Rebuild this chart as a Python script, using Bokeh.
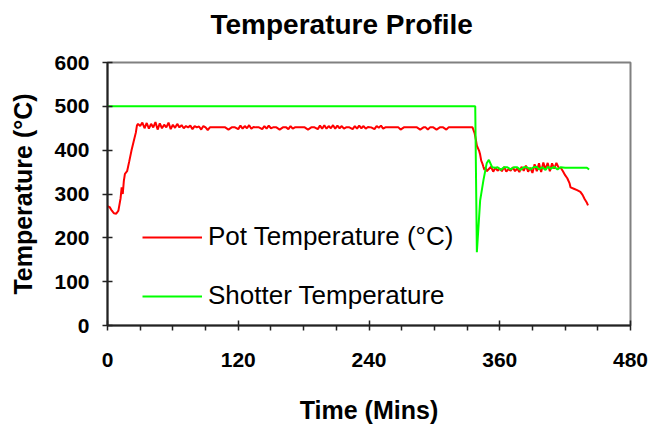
from bokeh.plotting import figure
from bokeh.models import Legend, LegendItem, FixedTicker, Range1d, Title
from bokeh.embed import file_html
from bokeh.resources import INLINE

# ---- data ----
pot_time = [0, 2, 4, 6, 8, 10, 12, 13, 14, 15, 16, 18, 20, 22, 24, 26, 27, 28,
            30, 32, 34, 36, 38, 40, 42, 44, 46, 48, 50, 52, 54, 56, 58, 60, 62, 64, 66, 68,
            70, 72, 74, 76, 78, 80, 82, 84, 86, 88, 90, 92, 94,
            96, 99, 102, 105, 108, 111, 114, 117, 120, 122, 124, 126, 128, 130, 132, 134, 136,
            139, 142, 144, 146, 148, 150, 152, 155, 158, 161, 164, 166, 168, 170, 172, 175,
            178, 181, 184, 187, 190, 193, 195, 197, 199, 201, 203, 205, 207, 209, 211, 213,
            215, 217, 219, 222, 225, 227, 229, 231, 233, 235, 237, 239, 242, 245, 247, 249,
            251, 253, 255, 258, 261, 264, 267, 269, 272, 275, 278, 281, 284, 287, 290, 292,
            294, 296, 299, 302, 305, 308, 311, 313, 316, 320, 324, 328, 332, 335,
            337, 338, 339, 341, 342, 343, 344, 345, 346, 347, 348, 350,
            352, 354, 356, 358, 360, 362, 364, 366, 368, 370, 372, 374, 376, 378, 380, 382,
            384, 386, 388, 390, 392, 394, 396, 398, 400, 402, 404, 406, 408, 410, 412, 414,
            416, 418, 420, 422, 424, 425, 428, 431, 434, 436, 438, 440, 441]
pot_temp = [272, 270, 262, 256, 255, 262, 290, 315, 300, 330, 346, 352, 375, 399, 420, 440, 456, 460,
            455, 463, 450, 462, 449, 460, 452, 464, 447, 461, 450, 458, 452, 463, 448, 458, 451, 460, 452, 457,
            450, 455, 452, 456, 448, 455, 452, 454, 447, 455, 452, 446, 452,
            452, 452, 452, 452, 452, 447, 452, 452, 448, 456, 449, 455, 450, 457, 449, 453, 452,
            452, 448, 455, 449, 456, 450, 452, 452, 447, 452, 452, 448, 455, 449, 452, 452,
            452, 452, 447, 452, 452, 448, 456, 449, 457, 449, 455, 450, 457, 449, 456, 450,
            455, 449, 452, 452, 448, 455, 449, 456, 450, 455, 449, 453, 452, 448, 455, 451,
            456, 449, 452, 452, 452, 452, 452, 447, 452, 452, 452, 452, 452, 447, 452, 452,
            447, 452, 452, 447, 452, 452, 447, 452, 452, 452, 452, 452, 452, 452,
            438, 425, 410, 399, 390, 376, 370, 362, 355, 360, 352, 357,
            362, 351, 360, 353, 358, 352, 362, 351, 357, 353, 361, 352, 358, 350, 362, 353,
            365, 351, 360, 348, 368, 352, 370, 350, 372, 356, 371, 352, 370, 358, 371, 360,
            360, 352, 343, 336, 325, 315, 312, 309, 305, 298, 288, 280, 274]

shot_time = [0, 337.5, 339, 342, 345, 348, 350, 353, 356, 358, 361, 364, 367, 370, 373, 376,
             379, 382, 385, 388, 391, 394, 396, 399, 402, 404, 407, 410, 413, 416, 420,
             425, 430, 435, 440, 442]
shot_temp = [500, 500, 167, 285, 331, 370, 378, 361, 360, 361, 355, 361, 361, 356, 361, 361,
             355, 361, 361, 356, 361, 362, 356, 361, 355, 362, 358, 362, 356, 361, 360,
             360, 360, 360, 360, 356]

x_ticks = [0, 120, 240, 360, 480]
x_minor = [30, 60, 90, 150, 180, 210, 270, 300, 330, 390, 420, 450]
y_ticks = [0, 100, 200, 300, 400, 500, 600]
title_text = "Temperature Profile"

FONT = "Liberation Sans"

p = figure(width=651, height=430, output_backend="svg", toolbar_location=None,
           x_range=Range1d(0, 480), y_range=Range1d(0, 600), title=None,
           min_border_left=107, min_border_right=21, min_border_top=62, min_border_bottom=105)
# spacer panel between the title and the plot frame, then the title itself
p.add_layout(Title(text=" ", text_font=FONT, text_font_size="12px", standoff=2), "above")
p.add_layout(Title(text=title_text, align="left", text_font=FONT,
                   text_font_size="28px", text_font_style="bold", text_color="black",
                   standoff=10, offset=103), "above")
p.background_fill_color = "white"
p.border_fill_color = "white"
p.outline_line_color = "#808080"
p.outline_line_width = 2
p.xgrid.visible = False
p.ygrid.visible = False

r_pot = p.line(pot_time, pot_temp, line_color="#FF0000", line_width=2)
r_shot = p.line(shot_time, shot_temp, line_color="#00FF00", line_width=2)

for ax in (p.xaxis[0], p.yaxis[0]):
    ax.axis_line_color = "#222222"
    ax.axis_line_width = 2
    ax.major_tick_line_color = "#222222"
    ax.major_tick_line_width = 1.5
    ax.major_tick_in = 5
    ax.major_tick_out = 5
    ax.major_label_text_font = FONT
    ax.major_label_text_font_size = "21px"
    ax.major_label_text_font_style = "bold"
    ax.major_label_text_color = "black"
    ax.axis_label_text_font = FONT
    ax.axis_label_text_font_size = "25px"
    ax.axis_label_text_font_style = "bold"
    ax.axis_label_text_color = "black"

p.xaxis[0].ticker = FixedTicker(ticks=x_ticks, minor_ticks=x_minor)
p.xaxis[0].minor_tick_line_color = "#222222"
p.xaxis[0].minor_tick_line_width = 1.5
p.xaxis[0].minor_tick_in = 0
p.xaxis[0].minor_tick_out = 5
p.xaxis[0].major_label_standoff = 22
p.xaxis[0].axis_label = "Time (Mins)"
p.xaxis[0].axis_label_standoff = 26

p.yaxis[0].ticker = FixedTicker(ticks=y_ticks)
p.yaxis[0].minor_tick_line_color = None
p.yaxis[0].major_label_standoff = 13
p.yaxis[0].axis_label = "Temperature (°C)"
p.yaxis[0].axis_label_standoff = 14

legend = Legend(items=[LegendItem(label="Pot Temperature (°C)", renderers=[r_pot]),
                       LegendItem(label="Shotter Temperature", renderers=[r_shot])],
                location=(35, 14), border_line_color=None, background_fill_alpha=0,
                padding=0, margin=0, spacing=28, glyph_width=60, glyph_height=30,
                label_height=30, label_standoff=6, label_text_font=FONT,
                label_text_font_size="26px", label_text_color="black")
p.add_layout(legend, "center")

open("out.html", "w").write(file_html(p, INLINE))
